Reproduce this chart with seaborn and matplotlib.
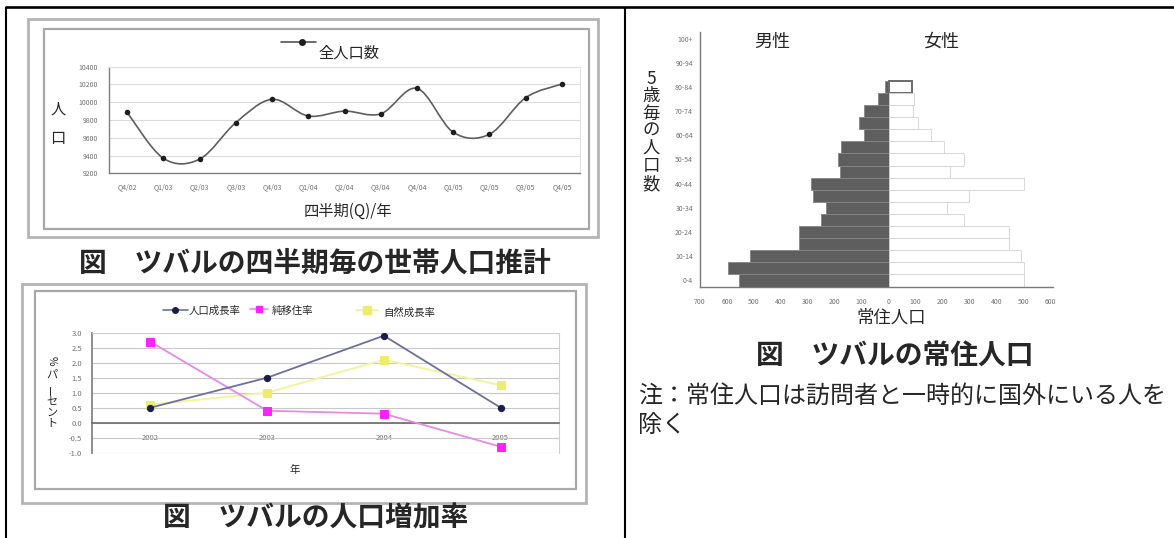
import numpy as np
import pandas as pd
import matplotlib
matplotlib.use("Agg")
import matplotlib.pyplot as plt
from matplotlib.path import Path
from matplotlib.patches import PathPatch, Rectangle
from matplotlib.lines import Line2D
import seaborn as sns

sns.set_theme(style="white")
plt.rcParams['font.family'] = ['Noto Sans CJK JP', 'DejaVu Sans']

# ---- quarterly household population estimate ----
quarters = ["Q4/02", "Q1/03", "Q2/03", "Q3/03", "Q4/03", "Q1/04", "Q2/04",
            "Q3/04", "Q4/04", "Q1/05", "Q2/05", "Q3/05", "Q4/05"]
population = [9886, 9369, 9359, 9770, 10033, 9845, 9900,
              9869, 10156, 9662, 9639, 10051, 10205]
pop_ticks = [9200, 9400, 9600, 9800, 10000, 10200, 10400]

# ---- population growth rates (%) ----
years = ["2002", "2003", "2004", "2005"]
growth_rate = [0.5, 1.5, 2.9, 0.5]
net_migration = [2.7, 0.4, 0.3, -0.8]
natural_growth = [0.6, 1.0, 2.1, 1.25]
rate_ticks = [-1.0, -0.5, 0.0, 0.5, 1.0, 1.5, 2.0, 2.5, 3.0]

# ---- resident population by 5-year age group ----
age_groups = ["0-4", "5-9", "10-14", "15-19", "20-24", "25-29", "30-34",
              "35-39", "40-44", "45-49", "50-54", "55-59", "60-64", "65-69",
              "70-74", "75-79", "80-84", "85-89", "90-94", "95-99", "100+"]
male = [556, 595, 513, 331, 331, 250, 232, 279, 287, 182, 188, 176,
        93, 110, 93, 40, 12, 0, 0, 0, 0]
female = [503, 503, 491, 447, 447, 280, 218, 300, 503, 228, 280, 206,
          156, 108, 90, 94, 88, 0, 0, 0, 0]
pyr_ticks = [-700, -600, -500, -400, -300, -200, -100, 0,
             100, 200, 300, 400, 500, 600]

W, H, DPI = 1174, 538, 100
fig = plt.figure(figsize=(W / DPI, H / DPI), dpi=DPI)
fig.patch.set_facecolor("white")


def box(x0, y0, x1, y1):
    return [x0 / W, 1 - y1 / H, (x1 - x0) / W, (y1 - y0) / H]


over = fig.add_axes([0, 0, 1, 1], zorder=0)
over.set_xlim(0, W)
over.set_ylim(H, 0)
over.axis("off")

# page rules
over.plot([4.5, W], [7.3, 7.3], color="black", lw=1.9, solid_capstyle="butt")
over.plot([5.7, 5.7], [6.5, H], color="black", lw=1.5, solid_capstyle="butt")
over.plot([625, 625], [6.5, H], color="black", lw=1.5, solid_capstyle="butt")


def frame(x0, y0, x1, y1, color, lw):
    over.add_patch(Rectangle((x0, y0), x1 - x0, y1 - y0, fill=False,
                             ec=color, lw=lw))


# chart frames
frame(28, 19, 598, 237, "#b4b4b4", 2.0)
frame(44, 29, 589, 229, "#a8a8a8", 1.6)
frame(22, 284, 586, 503, "#b4b4b4", 2.0)
frame(35, 291, 576, 489, "#a8a8a8", 1.6)

tick_kw = dict(colors="#6a6a6a", labelsize=5, labelcolor="#707070")

# ================= chart 1 : smooth population line =================
ax1 = fig.add_axes(box(109, 66.7, 580, 173.3), zorder=2)
ax1.set_facecolor("none")


def smooth_path(xs, ys):
    pts = np.column_stack([xs, ys]).astype(float)
    n = len(pts)
    verts, codes = [pts[0]], [Path.MOVETO]
    for i in range(n - 1):
        p0 = pts[i - 1] if i > 0 else pts[i]
        p1, p2 = pts[i], pts[i + 1]
        p3 = pts[i + 2] if i + 2 < n else pts[i + 1]
        verts += [p1 + (p2 - p0) / 6, p2 - (p3 - p1) / 6, p2]
        codes += [Path.CURVE4] * 3
    return Path(verts, codes)


qpos = np.arange(len(quarters))
ax1.add_patch(PathPatch(smooth_path(qpos, population), fill=False,
                        ec="#5e5e5e", lw=1.2, zorder=3))
sns.scatterplot(x=qpos, y=population, color="#1e1e1e", s=16,
                edgecolor="#1e1e1e", linewidth=0, zorder=4, ax=ax1)
ax1.set_xlim(-0.5, len(quarters) - 0.5)
ax1.set_ylim(pop_ticks[0], pop_ticks[-1])
ax1.set_yticks(pop_ticks)
ax1.set_yticklabels([str(t) for t in pop_ticks])
ax1.set_xticks(qpos)
ax1.set_xticklabels(quarters)
ax1.set_xticks(np.arange(len(quarters) + 1) - 0.5, minor=True)
ax1.tick_params(axis="x", which="major", length=0, pad=7.5, **tick_kw)
ax1.tick_params(axis="x", which="minor", length=3, color="#777", direction="out")
ax1.tick_params(axis="y", length=3, pad=5, direction="out", **tick_kw)
ax1.grid(axis="y", color="#dcdcdc", lw=0.8)
for s in ["left", "bottom"]:
    ax1.spines[s].set_color("#808080")
    ax1.spines[s].set_linewidth(1.0)
for s in ["top", "right"]:
    ax1.spines[s].set_color("#e0e0e0")
    ax1.spines[s].set_linewidth(0.8)
ax1.set_xlabel("")
ax1.set_ylabel("")

# chart 1 texts and legend
over.add_line(Line2D([281, 316], [41.7, 41.7], color="#555", lw=1.2))
over.plot([302], [41.7], "o", color="#1e1e1e", ms=4)
over.text(318, 53, "全人口数", fontsize=11, ha="left", va="center")
over.text(58, 109, "人", fontsize=11, ha="center", va="center")
over.text(58, 139, "口", fontsize=11, ha="center", va="center")
over.text(348, 211, "四半期(Q)/年", fontsize=11, ha="center", va="center")
over.text(315, 264, "図　ツバルの四半期毎の世帯人口推計", fontsize=20,
          fontweight="bold", ha="center", va="center")

# ================= chart 2 : growth rates =================
ax2 = fig.add_axes(box(92, 332.7, 559, 452.7), zorder=2)
ax2.set_facecolor("none")
c_growth_line, c_growth_mk = "#6f6f9e", "#1c1c4c"
c_mig_line, c_mig_mk = "#e68ae6", "#ff22ff"
c_nat_line, c_nat_mk = "#f3f3a0", "#eded6c"
sns.lineplot(x=years, y=natural_growth, color=c_nat_line, lw=1.4, marker="s",
             markersize=6, markerfacecolor=c_nat_mk, markeredgecolor=c_nat_mk,
             ax=ax2, zorder=3)
sns.lineplot(x=years, y=net_migration, color=c_mig_line, lw=1.3, marker="s",
             markersize=5.5, markerfacecolor=c_mig_mk, markeredgecolor=c_mig_mk,
             ax=ax2, zorder=4)
sns.lineplot(x=years, y=growth_rate, color=c_growth_line, lw=1.3, marker="o",
             markersize=4.5, markerfacecolor=c_growth_mk,
             markeredgecolor=c_growth_mk, ax=ax2, zorder=5)
ax2.set_xlim(-0.5, len(years) - 0.5)
ax2.set_ylim(rate_ticks[0], rate_ticks[-1])
ax2.set_yticks(rate_ticks)
ax2.set_yticklabels([f"{t:.1f}" for t in rate_ticks])
ax2.grid(axis="y", color="#c8c8c8", lw=0.8)
ax2.spines["bottom"].set_position(("data", 0))
ax2.spines["bottom"].set_color("#707070")
ax2.spines["left"].set_color("#808080")
for s in ["top", "right"]:
    ax2.spines[s].set_color("#cfcfcf")
    ax2.spines[s].set_linewidth(0.8)
ax2.set_xticks(np.arange(len(years) + 1) - 0.5, minor=True)
ax2.tick_params(axis="x", which="major", length=0, pad=8, **tick_kw)
ax2.tick_params(axis="x", which="minor", length=3, color="#777", direction="inout")
ax2.tick_params(axis="y", length=3, pad=4, direction="out", **tick_kw)
for lab in ax2.get_xticklabels() + ax2.get_yticklabels():
    lab.set_fontsize(5.5)
ax2.set_xlabel("")
ax2.set_ylabel("")

# chart 2 legend
over.add_line(Line2D([163, 188], [310, 310], color=c_growth_line, lw=1.2))
over.plot([175], [310], "o", color=c_growth_mk, ms=4)
over.text(189, 310.5, "人口成長率", fontsize=7.5, ha="left", va="center")
over.add_line(Line2D([250, 268], [309, 309], color=c_mig_line, lw=1.2))
over.plot([259], [309], "s", color=c_mig_mk, ms=5)
over.text(272, 310.5, "純移住率", fontsize=7.5, ha="left", va="center")
over.add_line(Line2D([356, 378], [310, 310], color=c_nat_line, lw=1.4))
over.plot([367], [310], "s", color=c_nat_mk, ms=6)
over.text(383, 312.5, "自然成長率", fontsize=7.5, ha="left", va="center")
over.text(295, 470, "年", fontsize=7.5, ha="center", va="center")
over.text(52, 361, "%", fontsize=7.5, rotation=-90, ha="center", va="center")
for ch, yy in zip("パーセント", [375, 389, 402, 413, 423]):
    over.text(52, yy, ch, fontsize=8, ha="center", va="center",
              rotation=90 if ch == "ー" else 0)
over.text(316, 518, "図　ツバルの人口増加率", fontsize=20,
          fontweight="bold", ha="center", va="center")

# ================= chart 3 : population pyramid =================
axp = fig.add_axes(box(700, 32.5, 1053, 286.5), zorder=2)
axp.set_facecolor("none")
pyr = pd.DataFrame({"age": age_groups,
                    "male": [-v for v in male],
                    "female": female})
order = age_groups[::-1]
sns.barplot(data=pyr[pyr.male != 0], y="age", x="male", order=order,
            orient="y", color="#5e5e5e", saturation=1, width=1.0,
            edgecolor="#868686", linewidth=0.6, errorbar=None, ax=axp)
sns.barplot(data=pyr[pyr.female != 0], y="age", x="female", order=order,
            orient="y", color="white", saturation=1, width=1.0,
            edgecolor="#d2d2d2", linewidth=0.6, errorbar=None, ax=axp)
# oldest female group outlined
fem_container = axp.containers[-1]
oldest = pyr[pyr.female != 0].age.iloc[-1]
for bar in fem_container:
    cy = bar.get_y() + bar.get_height() / 2
    if abs(cy - order.index(oldest)) < 0.01:
        bar.set_edgecolor("#6a6a6a")
        bar.set_linewidth(1.4)
axp.set_xlim(-700, 610)
axp.set_ylim(len(order) - 0.5, -0.5)
axp.set_xticks(pyr_ticks)
axp.set_xticklabels([str(abs(t)) for t in pyr_ticks])
ypos = np.arange(len(order))
axp.set_yticks(ypos)
axp.set_yticklabels([a if i % 2 == 0 else "" for i, a in enumerate(order)])
axp.set_yticks(np.arange(len(order) + 1) - 0.5, minor=True)
axp.tick_params(axis="y", which="major", length=0, pad=5, **tick_kw)
axp.tick_params(axis="y", which="minor", length=3, color="#777", direction="out")
axp.tick_params(axis="x", length=3, pad=7, direction="inout", **tick_kw)
for s in ["top", "right"]:
    axp.spines[s].set_visible(False)
for s in ["left", "bottom"]:
    axp.spines[s].set_color("#7a7a7a")
    axp.spines[s].set_linewidth(1.0)
axp.set_xlabel("")
axp.set_ylabel("")

over.text(772, 42, "男性", fontsize=13, ha="center", va="center")
over.text(941, 42, "女性", fontsize=13, ha="center", va="center")
for ch, yy in zip("5歳毎の人口数", [79, 96, 114, 131, 148, 166, 184]):
    over.text(651, yy, ch, fontsize=12.5, ha="center", va="center")
over.text(891, 318, "常住人口", fontsize=12.5, ha="center", va="center")
over.text(895, 356, "図　ツバルの常住人口", fontsize=20,
          fontweight="bold", ha="center", va="center")
over.text(638, 396, "注：常住人口は訪問者と一時的に国外にいる人を",
          fontsize=17.3, ha="left", va="center")
over.text(638, 425, "除く", fontsize=17.3, ha="left", va="center")

fig.savefig("out.png", dpi=DPI, facecolor="white")
